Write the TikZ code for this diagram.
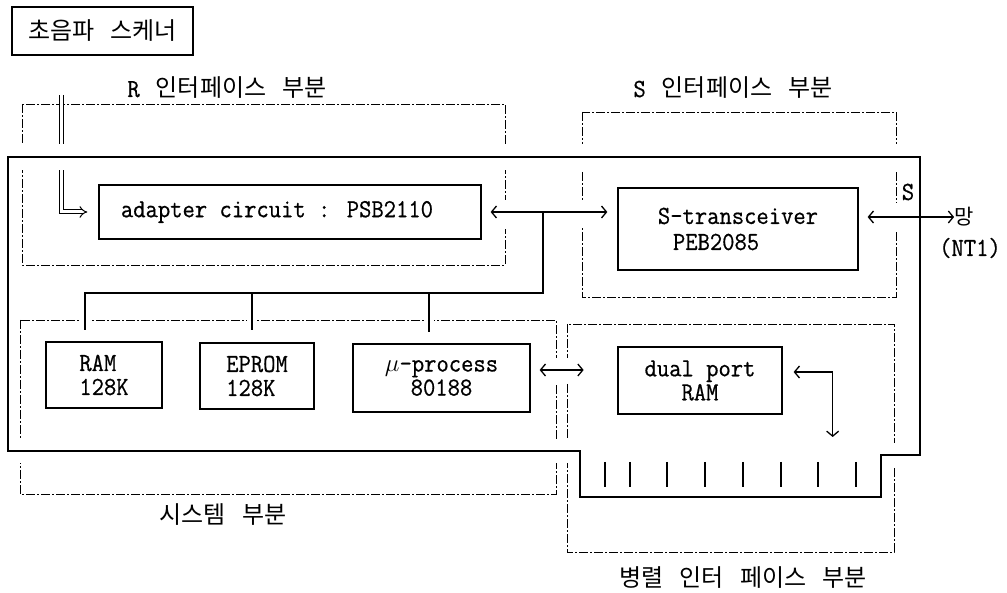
\documentclass[tikz,border=0pt]{standalone}
\usepackage{fontspec}
\usetikzlibrary{arrows.meta}
\newfontfamily\kr[WordSpace=3]{Noto Sans CJK KR}
\newfontfamily\mono[FakeStretch=0.92,FakeBold=0.6]{Latin Modern Mono}
\begin{document}
\begin{tikzpicture}[x=1pt,y=-1pt,
  >={Straight Barb[length=5pt,width=12pt]},
  dsh/.style={line width=0.9pt, dash pattern=on 9pt off 2pt on 2pt off 2pt},
  blk/.style={draw, line width=1.3pt, inner sep=0pt, font=\mono\fontsize{26}{24}\selectfont},
  lbl/.style={font=\kr\fontsize{24}{26}\selectfont, inner sep=0pt},
  txt/.style={font=\mono\fontsize{26}{26}\selectfont, inner sep=0pt},
  ln/.style={line width=1.3pt},
  gap/.style={white},
  tick/.style={line width=1.3pt}]
\useasboundingbox (0,0) rectangle (1007,593);
\fill[white] (0,0) rectangle (1007,593);

% dashed regions
\draw[dsh] (22,104) rectangle (505,265);
\draw[dsh] (582,112) rectangle (896,297);
\draw[dsh] (20,320) rectangle (556,494);
\draw[dsh] (567,324) rectangle (894,552);

% blocks
\node[blk, minimum width=382pt, minimum height=54pt] (adapter) at (290,212) {\hspace*{-26pt}adapter circuit : PSB2110};

% R input double line
\coordinate (rin) at (61,95);
\draw[double, double distance=3pt, line width=1pt, -{Implies}] (rin) |- ([xshift=-11pt]adapter.west);

% gaps where lines cross
\draw[gap, line width=26pt] (8,157) -- (920,157);
\draw[gap, line width=24pt] (8,451) -- (580,451);
\draw[gap, line width=24pt] (881,455) -- (920,455);
\fill[gap] (499,200) rectangle (511,229);
\fill[gap] (576,200) rectangle (588,228);
\fill[gap] (890,203) rectangle (901,232);
\fill[gap] (550,358) rectangle (573,383);
\fill[gap] (80,315) rectangle (90,325);
\fill[gap] (247,315) rectangle (257,325);
\fill[gap] (424,315) rectangle (434,327);

% title and region labels
\node[draw, line width=1.3pt, minimum width=181pt, minimum height=48pt, lbl] (title) at (102.5,31) {초음파 스케너};
\node[lbl] (rlab) at (227,88) {{\mono\fontsize{26}{26}\selectfont R} 인터페이스 부분};
\node[lbl] (slab) at (733,88) {{\mono\fontsize{26}{26}\selectfont S} 인터페이스 부분};
\node[lbl] (syslab) at (223,515) {시스템 부분};
\node[lbl] (parlab) at (743,578) {병렬 인터 페이스 부분};

\node[blk, minimum width=240pt, minimum height=82pt, align=left, font=\mono\fontsize{26}{26}\selectfont] (stran) at (738,229) {S-transceiver\\\hspace*{15pt}PEB2085};
\node[blk, minimum width=116pt, minimum height=66pt, align=left] (ram) at (104,375) {RAM\\128K};
\node[blk, minimum width=114pt, minimum height=66pt, align=left] (eprom) at (257,376) {EPROM\\128K};
\node[blk, minimum width=177pt, minimum height=68pt, align=center] (mu) at (441.5,378) {$\mu$-process\\80188};
\node[blk, minimum width=164pt, minimum height=67pt, align=center] (dpr) at (700,380.5) {dual port\\RAM};

\node[txt] (slbl) at (908,192) {S};
\node[lbl, font=\kr\fontsize{21}{21}\selectfont] (mang) at (964,217) {망};
\node[txt] (nt1) at (970,248) {(NT1)};

% connectors
\draw[ln,<->] ([xshift=9pt]adapter.east) -- ([xshift=-10pt]adapter.east -| stran.west);
\coordinate (jn) at (543,212);
\coordinate (bus) at (543,293);
\coordinate (tram) at (85,330);
\coordinate (tep) at (252,330);
\coordinate (tmu) at (429,332);
\draw[ln] (jn) -- (bus) -- (bus -| tram) -- (tram);
\draw[ln] (bus -| tep) -- (tep);
\draw[ln] (bus -| tmu) -- (tmu);
\draw[ln,<->] ([shift={(9pt,8pt)}]mu.east) -- ++(44,0);
\draw[ln,<->] ([shift={(11pt,8.5pt)}]dpr.east) -| ++(39,65);
\draw[ln,<->] ([shift={(9pt,12pt)}]stran.east) -- (mang.west);

% connector pins
\foreach \x in {605,630,667,705,743,781,818,856}
  \draw[tick] (\x,462) -- (\x,487);

% main board outline
\draw[line width=2.2pt, line join=miter] (8,157) -- (920,157) -- (920,455) -- (881,455) -- (881,497) -- (580,497) -- (580,451) -- (8,451) -- cycle;
\end{tikzpicture}
\end{document}
